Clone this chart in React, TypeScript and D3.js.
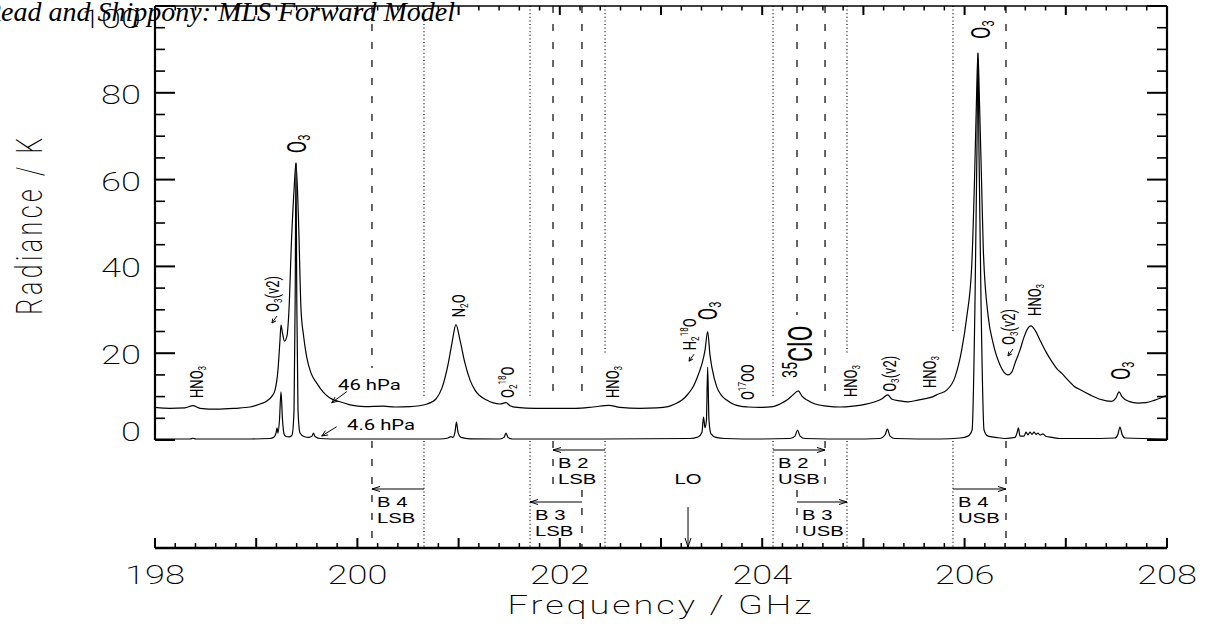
import React from "react";
import * as d3 from "d3";

// Forward-model radiance spectra: [frequency / GHz, radiance / K]
const spectrum46hPa: [number, number][] = [
  [198.0, 7.5], [198.148, 7.3], [198.296, 7.4], [198.375, 7.9], [198.445, 7.3],
  [198.613, 7.1], [198.791, 7.3], [198.939, 7.6], [199.038, 8.3], [199.107, 9.0],
  [199.156, 10.1], [199.186, 11.5], [199.215, 16.1], [199.235, 23.0], [199.245, 26.5],
  [199.26, 24.6], [199.28, 22.8], [199.304, 24.0], [199.324, 30.0], [199.349, 46.1],
  [199.374, 57.6], [199.393, 63.8], [199.418, 50.7], [199.443, 30.0], [199.467, 24.2],
  [199.499, 19.1], [199.542, 15.4], [199.598, 13.1], [199.66, 11.1], [199.729, 9.7],
  [199.828, 8.8], [199.927, 8.1], [200.075, 7.7], [200.253, 7.8], [200.372, 7.6],
  [200.52, 7.7], [200.688, 8.3], [200.777, 9.5], [200.836, 12.0], [200.895, 17.3],
  [200.935, 22.4], [200.974, 26.6], [201.014, 23.0], [201.063, 17.7], [201.113, 13.8],
  [201.162, 11.5], [201.278, 9.2], [201.409, 8.3], [201.468, 8.6], [201.508, 7.9],
  [201.577, 7.5], [201.755, 7.3], [201.903, 7.3], [202.15, 7.3], [202.328, 7.6],
  [202.486, 8.0], [202.595, 7.5], [202.792, 7.3], [202.96, 7.4], [203.069, 7.7],
  [203.138, 8.3], [203.208, 9.2], [203.267, 10.6], [203.316, 12.2], [203.356, 14.3],
  [203.385, 16.1], [203.41, 18.0], [203.435, 20.7], [203.461, 25.0], [203.484, 19.6],
  [203.504, 16.6], [203.55, 12.3], [203.593, 10.4], [203.649, 9.2], [203.711, 8.3],
  [203.781, 7.8], [203.86, 7.6], [203.978, 7.5], [204.107, 7.7], [204.176, 8.3],
  [204.245, 9.2], [204.304, 10.4], [204.357, 11.3], [204.393, 10.1], [204.443, 9.2],
  [204.522, 8.3], [204.64, 7.8], [204.769, 7.6], [204.897, 7.8], [205.016, 8.2],
  [205.115, 8.8], [205.184, 9.5], [205.24, 10.4], [205.283, 9.4], [205.362, 9.0],
  [205.441, 8.8], [205.54, 9.2], [205.628, 9.6], [205.688, 10.0], [205.742, 10.6],
  [205.823, 11.5], [205.905, 14.5], [205.971, 20.7], [206.021, 28.3], [206.07, 39.9],
  [206.098, 60.0], [206.117, 78.0], [206.132, 89.2], [206.147, 78.0], [206.167, 60.0],
  [206.185, 43.8], [206.234, 28.3], [206.281, 22.4], [206.35, 17.3], [206.429, 15.0],
  [206.468, 15.7], [206.498, 17.7], [206.518, 18.9], [206.547, 20.7], [206.587, 23.7],
  [206.626, 25.8], [206.656, 26.3], [206.696, 25.3], [206.745, 23.0], [206.804, 20.3],
  [206.864, 18.0], [206.913, 16.4], [206.958, 15.4], [207.022, 13.8], [207.081, 12.4],
  [207.148, 11.5], [207.239, 10.4], [207.338, 9.4], [207.452, 8.9], [207.496, 9.7],
  [207.526, 11.1], [207.555, 10.0], [207.623, 8.9], [207.713, 8.5], [207.792, 8.6],
  [207.881, 9.2], [208.0, 10.3],
];

const spectrum4p6hPa: [number, number][] = [
  [198.0, 0.23], [198.346, 0.23], [198.375, 0.4], [198.405, 0.23], [198.939, 0.23],
  [199.136, 0.35], [199.176, 0.7], [199.196, 1.6], [199.206, 2.8], [199.215, 1.6],
  [199.23, 4.6], [199.245, 11.1], [199.26, 4.6], [199.275, 1.4], [199.294, 0.8],
  [199.324, 0.7], [199.354, 1.15], [199.374, 6.9], [199.385, 32.3], [199.393, 63.8],
  [199.401, 32.3], [199.413, 6.9], [199.433, 1.6], [199.472, 0.8], [199.522, 0.6],
  [199.551, 0.9], [199.566, 1.6], [199.581, 0.8], [199.63, 0.35], [199.828, 0.23],
  [200.816, 0.23], [200.895, 0.46], [200.925, 0.8], [200.945, 0.6], [200.964, 1.8],
  [200.979, 4.1], [200.994, 1.8], [201.024, 0.6], [201.113, 0.28], [201.409, 0.23],
  [201.449, 0.6], [201.468, 1.6], [201.488, 0.6], [201.528, 0.23], [202.397, 0.23],
  [203.286, 0.35], [203.366, 0.7], [203.405, 1.8], [203.42, 5.3], [203.435, 2.8],
  [203.449, 4.6], [203.461, 16.8], [203.474, 4.6], [203.494, 1.4], [203.543, 0.6],
  [203.632, 0.35], [203.978, 0.23], [204.275, 0.35], [204.324, 0.9], [204.349, 2.3],
  [204.374, 0.9], [204.423, 0.35], [204.868, 0.23], [205.164, 0.35], [205.213, 1.15],
  [205.238, 2.5], [205.263, 0.9], [205.312, 0.35], [205.757, 0.23], [205.955, 0.46],
  [206.034, 0.9], [206.074, 2.3], [206.103, 32.3], [206.122, 66.8], [206.132, 89.2],
  [206.142, 66.8], [206.162, 32.3], [206.192, 2.3], [206.231, 0.9], [206.31, 0.6],
  [206.399, 0.35], [206.498, 0.6], [206.518, 1.6], [206.532, 2.8], [206.547, 0.9],
  [206.587, 0.9], [206.607, 1.8], [206.626, 1.15], [206.646, 1.8], [206.666, 1.3],
  [206.686, 1.8], [206.706, 1.3], [206.725, 1.6], [206.745, 1.15], [206.775, 1.4],
  [206.804, 0.8], [206.864, 0.6], [206.943, 0.35], [207.338, 0.35], [207.486, 0.46],
  [207.516, 1.4], [207.535, 3.0], [207.555, 1.4], [207.585, 0.46], [208.0, 0.23],
];

// Local oscillator and filter-bank bands (GHz)
const LO_GHZ = 203.267;
const bandNames = ["B 2", "B 3", "B 4"];
// [edge nearest the LO, edge farthest from the LO]
const lsbEdges: [number, number][] = [[202.447, 201.933], [202.219, 201.706], [200.658, 200.144]];
const usbEdges: [number, number][] = [[204.107, 204.621], [204.344, 204.838], [205.885, 206.409]];
// radiance (K) where the upper part of each edge marker stops
const lsbStopK: [number, number][] = [[20.0, 9.7], [9.7, 9.7], [9.7, 16.6]];
const usbStopK: [number, number][] = [[9.7, 9.7], [28.8, 20.0], [24.9, 29.5]];

// Line identifications: frequency, radiance at the foot of the label
type Part = [string, "n" | "sub" | "sup"];
type LineLabel = { f: number; k: number; parts: Part[]; kind: "minor" | "major" | "clo"; arrow?: boolean };
const HNO3: Part[] = [["HNO", "n"], ["3", "sub"]];
const O3: Part[] = [["O", "n"], ["3", "sub"]];
const O3v2: Part[] = [["O", "n"], ["3", "sub"], ["(v2)", "n"]];
const lineLabels: LineLabel[] = [
  { f: 198.41, k: 9.7, parts: HNO3, kind: "minor" },
  { f: 199.156, k: 29.5, parts: O3v2, kind: "minor", arrow: true },
  { f: 199.403, k: 66.1, parts: O3, kind: "major" },
  { f: 200.994, k: 28.3, parts: [["N", "n"], ["2", "sub"], ["O", "n"]], kind: "minor" },
  { f: 201.478, k: 9.7, parts: [["O", "n"], ["2", "sub"], ["18", "sup"], ["O", "n"]], kind: "minor" },
  { f: 202.516, k: 9.7, parts: HNO3, kind: "minor" },
  { f: 203.277, k: 20.7, parts: [["H", "n"], ["2", "sub"], ["18", "sup"], ["O", "n"]], kind: "minor", arrow: true },
  { f: 203.464, k: 27.6, parts: O3, kind: "major" },
  { f: 203.85, k: 9.2, parts: [["O", "n"], ["17", "sup"], ["OO", "n"]], kind: "minor" },
  { f: 204.374, k: 14.3, parts: [["35", "sup"], ["ClO", "n"]], kind: "clo" },
  { f: 204.868, k: 9.9, parts: HNO3, kind: "minor" },
  { f: 205.253, k: 11.1, parts: O3v2, kind: "minor" },
  { f: 205.648, k: 12.0, parts: HNO3, kind: "minor" },
  { f: 206.162, k: 92.4, parts: O3, kind: "major" },
  { f: 206.429, k: 21.9, parts: O3v2, kind: "minor", arrow: true },
  { f: 206.686, k: 28.6, parts: HNO3, kind: "minor" },
  { f: 207.545, k: 13.8, parts: O3, kind: "major" },
];

const W = 1205;
const H = 630;
const plot = { left: 155, right: 1167, top: 6, bottom: 440 };
const axisY = 548;
const SX = 1.45; // horizontal stretch of the plotting fonts
const sansFont = "Roboto, 'Liberation Sans', Arial, sans-serif";
const bandFont = "'Liberation Sans', Arial, sans-serif";
const labelSize = { minor: 13, major: 18, clo: 23 };

function chevron(tx: number, ty: number, ux: number, uy: number, len = 7, half = 3) {
  const bx = tx - ux * len;
  const by = ty - uy * len;
  return `M${bx - uy * half},${by + ux * half}L${tx},${ty}L${bx + uy * half},${by - ux * half}`;
}

function Arrow({ x1, y1, x2, y2, len = 7, half = 3 }: { x1: number; y1: number; x2: number; y2: number; len?: number; half?: number }) {
  const d = Math.hypot(x2 - x1, y2 - y1);
  const ux = (x2 - x1) / d;
  const uy = (y2 - y1) / d;
  return (
    <g fill="none" stroke="#000" strokeWidth={1}>
      <line x1={x1} y1={y1} x2={x2} y2={y2} />
      <path d={chevron(x2, y2, ux, uy, len, half)} />
    </g>
  );
}

function RichText({ parts, size }: { parts: Part[]; size: number }) {
  let cur = 0;
  return (
    <text fontFamily={sansFont} fontSize={size} dominantBaseline="central" textAnchor="start" fill="#000">
      {parts.map(([s, kind], i) => {
        const target = kind === "sub" ? 0.28 * size : kind === "sup" ? -0.3 * size : 0;
        const dy = target - cur;
        cur = target;
        return (
          <tspan key={i} dy={dy} fontSize={kind === "n" ? size : size * 0.62}>
            {s}
          </tspan>
        );
      })}
    </text>
  );
}

export default function App() {
  const x = d3.scaleLinear().domain([198, 208]).range([plot.left, plot.right]);
  const y = d3.scaleLinear().domain([0, 100]).range([plot.bottom, plot.top]);
  const line = d3
    .line<[number, number]>()
    .x((d) => x(d[0]))
    .y((d) => y(d[1]))
    .curve(d3.curveMonotoneX);

  const majorX = d3.range(198, 208.001, 1);
  const minorX = d3.range(0, 51).map((i) => 198 + i * 0.2);
  const labelX = x.ticks(5);
  const majorY = d3.range(0, 100.001, 20);
  const minorY = d3.range(0, 100.001, 5);

  // vertical placement of the radiance tick labels relative to their ticks
  const yLabelPos = (v: number) => (v === 0 ? y(v) - 7 : v === 100 ? y(v) + 14 : y(v) + 2.5);

  const bandLayout = [
    { arrowY: 450, farEnd: 487, nearStart: plot.bottom + 1 },
    { arrowY: 502, farEnd: axisY, nearStart: 490 },
    { arrowY: 489, farEnd: axisY, nearStart: plot.bottom + 1 },
  ];
  const nearDashed = [false, true, false];
  const dashed = "7,11";
  const dotted = "1,2.6";

  const bandMarks: React.ReactNode[] = [];
  bandNames.forEach((name, b) => {
    const lay = bandLayout[b];
    (["LSB", "USB"] as const).forEach((side) => {
      const [near, far] = side === "LSB" ? lsbEdges[b] : usbEdges[b];
      const [nearK, farK] = side === "LSB" ? lsbStopK[b] : usbStopK[b];
      const xn = x(near);
      const xf = x(far);
      const nearDash = nearDashed[b] ? dashed : dotted;
      const farDash = nearDashed[b] ? dotted : dashed;
      const key = `${name}-${side}`;
      const left = Math.min(xn, xf);
      bandMarks.push(
        <g key={key}>
          <line x1={xn} x2={xn} y1={plot.top} y2={y(nearK)} stroke="#000" strokeWidth={1.2} strokeDasharray={nearDash} />
          <line x1={xf} x2={xf} y1={plot.top} y2={y(farK)} stroke="#000" strokeWidth={1.2} strokeDasharray={farDash} />
          <line x1={xn} x2={xn} y1={lay.nearStart} y2={axisY} stroke="#000" strokeWidth={1.2} strokeDasharray={nearDash} />
          <line x1={xf} x2={xf} y1={plot.bottom + 1} y2={lay.farEnd} stroke="#000" strokeWidth={1.2} strokeDasharray={farDash} />
          <Arrow x1={xn} y1={lay.arrowY} x2={xf} y2={lay.arrowY} len={8} half={2.5} />
          <g transform={`translate(${left + 5},${lay.arrowY + 13}) scale(${SX},1)`}>
            <text fontFamily={bandFont} fontSize={14} dominantBaseline="central">{name}</text>
          </g>
          <g transform={`translate(${left + 5},${lay.arrowY + 29.5}) scale(${SX},1)`}>
            <text fontFamily={bandFont} fontSize={14} dominantBaseline="central">{side}</text>
          </g>
        </g>
      );
    });
  });

  const xLO = x(LO_GHZ);

  return (
    <svg width={W} height={H} viewBox={`0 0 ${W} ${H}`} style={{ position: "absolute", left: 0, top: 0, background: "#fff" }}>
      <rect width={W} height={H} fill="#fff" />

      {/* band edge markers and arrows */}
      {bandMarks}

      {/* LO marker */}
      <g transform={`translate(${xLO},479) scale(${SX},1)`}>
        <text fontFamily={bandFont} fontSize={14} textAnchor="middle" dominantBaseline="central">LO</text>
      </g>
      <Arrow x1={xLO} y1={507} x2={xLO} y2={axisY - 1} len={9} half={3} />

      {/* spectra */}
      <path d={line(spectrum46hPa) ?? ""} fill="none" stroke="#000" strokeWidth={1.2} strokeLinejoin="round" />
      <path d={line(spectrum4p6hPa) ?? ""} fill="none" stroke="#000" strokeWidth={1.2} strokeLinejoin="round" />

      {/* pressure labels */}
      <g transform={`translate(338,385) scale(${SX},1)`}>
        <text fontFamily={sansFont} fontSize={14} dominantBaseline="central">46 hPa</text>
      </g>
      <Arrow x1={346.7} y1={391.7} x2={331.7} y2={402.7} len={6} half={2.5} />
      <g transform={`translate(347,425) scale(${SX},1)`}>
        <text fontFamily={sansFont} fontSize={14} dominantBaseline="central">4.6 hPa</text>
      </g>
      <Arrow x1={336.7} y1={426.7} x2={321.7} y2={436} len={6} half={2.5} />

      {/* line identifications */}
      {lineLabels.map((lab, i) => {
        const cx = x(lab.f);
        const by = y(lab.k);
        return (
          <g key={i}>
            <g transform={`translate(${cx},${by}) scale(${SX},1) rotate(-90)`}>
              <RichText parts={lab.parts} size={labelSize[lab.kind]} />
            </g>
            {lab.arrow && <Arrow x1={cx + 5} y1={by + 4} x2={cx} y2={by + 11} len={4} half={2} />}
          </g>
        );
      })}

      {/* frame: left, right and top axes */}
      <g stroke="#000" fill="none">
        <line x1={plot.left} x2={plot.left} y1={plot.top} y2={plot.bottom} strokeWidth={2.2} />
        <line x1={plot.right} x2={plot.right} y1={plot.top} y2={plot.bottom} strokeWidth={2.2} />
        <line x1={plot.left} x2={plot.right} y1={plot.top} y2={plot.top} strokeWidth={1.6} />
        {minorY.map((v) => {
          const major = v % 20 === 0;
          const len = major ? 20 : 10;
          return (
            <g key={`yt${v}`} strokeWidth={major ? 2 : 1.6}>
              <line x1={plot.left} x2={plot.left + len} y1={y(v)} y2={y(v)} />
              <line x1={plot.right} x2={plot.right - len} y1={y(v)} y2={y(v)} />
            </g>
          );
        })}
        {minorX.map((f) => {
          const major = majorX.some((m) => Math.abs(m - f) < 1e-6);
          const len = major ? 9 : 4.5;
          return <line key={`xt${f.toFixed(1)}`} x1={x(f)} x2={x(f)} y1={plot.top} y2={plot.top + len} strokeWidth={major ? 2 : 1.5} />;
        })}
      </g>

      {/* frequency axis */}
      <g stroke="#000" fill="none">
        <line x1={plot.left} x2={plot.right} y1={axisY} y2={axisY} strokeWidth={2.5} />
        {minorX.map((f) => {
          const major = majorX.some((m) => Math.abs(m - f) < 1e-6);
          const len = major ? 10 : 5;
          return <line key={`bx${f.toFixed(1)}`} x1={x(f)} x2={x(f)} y1={axisY} y2={axisY - len} strokeWidth={major ? 2 : 1.5} />;
        })}
      </g>
      {labelX.map((f) => (
        <g key={`xl${f}`} transform={`translate(${x(f)},576) scale(${SX},1)`}>
          <text fontFamily={sansFont} fontWeight={200} fontSize={25} textAnchor="middle" dominantBaseline="central">
            {f}
          </text>
        </g>
      ))}
      <g transform={`translate(${(plot.left + plot.right) / 2},606) scale(${SX},1)`}>
        <text fontFamily={sansFont} fontWeight={200} fontSize={25} textAnchor="middle" dominantBaseline="central" letterSpacing={2}>
          Frequency / GHz
        </text>
      </g>

      {/* radiance tick labels and title */}
      {majorY.map((v) => (
        <g key={`yl${v}`} transform={`translate(141,${yLabelPos(v)}) scale(${SX},1)`}>
          <text fontFamily={sansFont} fontWeight={200} fontSize={25} textAnchor="end" dominantBaseline="central">
            {v}
          </text>
        </g>
      ))}
      <g transform={`translate(42,224.5) scale(${SX},1) rotate(-90)`}>
        <text fontFamily={sansFont} fontWeight={200} fontSize={25} textAnchor="middle" letterSpacing={3.5}>
          Radiance / K
        </text>
      </g>

      {/* running header */}
      <text x={455} y={21} textAnchor="end" fontFamily="'Liberation Serif', 'DejaVu Serif', serif" fontStyle="italic" fontSize={28}>
        Read and Shippony: MLS Forward Model
      </text>
    </svg>
  );
}
